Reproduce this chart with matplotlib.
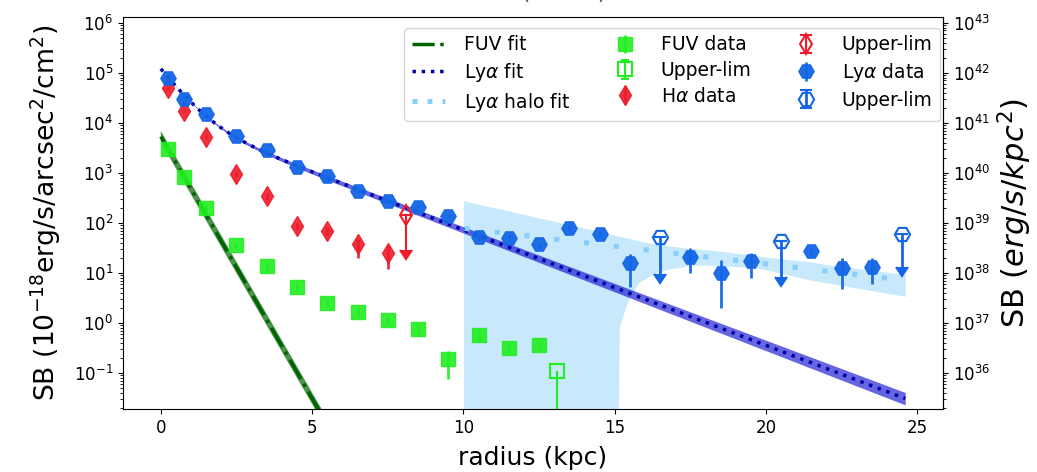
import numpy as np
import matplotlib
matplotlib.use("Agg")
import matplotlib.pyplot as plt
from matplotlib.lines import Line2D

# ---------------- measured profiles (1e-18 erg/s/arcsec^2/cm^2) ----------------
fuv_r = [0.25, 0.75, 1.5, 2.5, 3.5, 4.5, 5.5, 6.5, 7.5, 8.5, 9.5, 10.5, 11.5, 12.5]
fuv_sb = [3000, 830, 200, 36, 13.5, 5.2, 2.5, 1.65, 1.13, 0.74, 0.19, 0.56, 0.32, 0.36]
fuv_err_lo = [300, 80, 25, 5, 2, 0.8, 0.4, 0.3, 0.2, 0.15, 0.116, 0.12, 0.08, 0.08]
fuv_err_hi = [300, 80, 25, 5, 2, 0.8, 0.4, 0.3, 0.2, 0.15, 0.09, 0.12, 0.08, 0.08]
fuv_lim_r = [13.1]
fuv_lim_sb = [0.11]
fuv_lim_end = [0.012]

ha_r = [0.25, 0.75, 1.5, 2.5, 3.5, 4.5, 5.5, 6.5, 7.5]
ha_sb = [5.0e4, 1.7e4, 5.3e3, 930, 340, 86, 69, 37, 25]
ha_err_lo = [4e3, 1.5e3, 6e2, 120, 50, 14, 12, 17, 13]
ha_err_hi = [4e3, 1.5e3, 6e2, 120, 50, 14, 12, 10, 10]
ha_lim_r = [8.1]
ha_lim_sb = [141]
ha_lim_end = [28]

lya_r = [0.25, 0.75, 1.5, 2.5, 3.5, 4.5, 5.5, 6.5, 7.5, 8.5, 9.5, 10.5, 11.5,
         12.5, 13.5, 14.5, 15.5, 17.5, 18.5, 19.5, 21.5, 22.5, 23.5]
lya_sb = [7.9e4, 3.0e4, 1.5e4, 5.4e3, 2.8e3, 1.3e3, 870, 430, 275, 209, 135, 51, 50,
          37, 77, 61, 15.5, 20.5, 10, 17, 27, 12.5, 13]
lya_err_lo = [3e3, 1.5e3, 8e2, 3e2, 150, 80, 50, 30, 20, 15, 12, 6, 6,
              5, 8, 7, 10.4, 10.5, 8.0, 9.2, 4, 7.8, 7.1]
lya_err_hi = [3e3, 1.5e3, 8e2, 3e2, 150, 80, 50, 30, 20, 15, 12, 6, 6,
              5, 8, 7, 8.5, 10.5, 7.8, 7.5, 4, 7.0, 6.5]
lya_lim_r = [16.5, 20.5, 24.5]
lya_lim_sb = [51, 43, 61]
lya_lim_end = [9.3, 8.1, 13]

# ---------------- fitted models ----------------
fuv_fit_amp, fuv_fit_h = 5.3e3, 0.415
fuv_fit_spread = 1.3
lya_core_amp, lya_core_h = 1.05e5, 0.55
lya_halo_amp, lya_halo_h = 1.48e4, 1.88
lya_fit_damp, lya_fit_dh = 0.05, 0.018
halo_fit_amp, halo_fit_h, halo_fit_rmin = 400.0, 6.1, 10.0
fit_rmax = 24.6

# confidence envelope of the Lya halo fit
halo_band_r = [10.0, 12.0, 14.0, 15.1, 15.15, 15.4, 15.77, 16.2, 16.7, 17.55,
               18.0, 18.5, 19.7, 20.0, 21.5, 22.0, 24.6]
halo_band_lo = [1e-3, 1e-3, 1e-3, 1e-3, 0.83, 2.4, 6.2, 9.0, 11.7, 14.2,
                14.2, 14.0, 12.4, 11.5, 7.1, 6.3, 3.4]
halo_band_hi = [275, 147, 78, 55, 54, 50, 44, 39, 35, 30.5,
                29, 27, 22, 20.6, 16.5, 14.5, 9.3]

# axis ticks
left_yticks = [1e-1, 1e0, 1e1, 1e2, 1e3, 1e4, 1e5, 1e6]
right_yticks = [1e36, 1e37, 1e38, 1e39, 1e40, 1e41, 1e42, 1e43]
x_ticks = [0, 5, 10, 15, 20, 25]

# unit conversion to erg/s/kpc^2
sb_to_kpc = 1e37

# ---------------- styling ----------------
fuv_color = '#22ee22'
ha_color = '#ee1c2a'
lya_color = '#1466e6'
halo_color = 'lightskyblue'

plt.rcParams['font.family'] = 'DejaVu Sans'
fig = plt.figure(figsize=(10.37, 4.72), dpi=100)
ax = fig.add_axes([0.1186, 0.1335, 0.7908, 0.8305])
ax.set_yscale('log')

r = np.linspace(0, fit_rmax, 400)

# FUV exponential fit
fuv_model = fuv_fit_amp * np.exp(-r / fuv_fit_h)
ax.fill_between(r, fuv_model / fuv_fit_spread, fuv_model * fuv_fit_spread,
                color='darkgreen', alpha=0.7, lw=0, zorder=1)
ax.plot(r, fuv_model, color='darkgreen', ls='-.', lw=2.5, zorder=2, label='FUV fit')

# Lya halo envelope
ax.fill_between(halo_band_r, halo_band_lo, halo_band_hi, color=halo_color,
                alpha=0.45, lw=0, zorder=1)

# Lya two-component fit
lya_core = lya_core_amp * np.exp(-r / lya_core_h)
lya_model = lya_core + lya_halo_amp * np.exp(-r / lya_halo_h)
lya_lo = lya_core + lya_halo_amp * (1 - lya_fit_damp) * np.exp(-r / (lya_halo_h * (1 - lya_fit_dh)))
lya_hi = lya_core + lya_halo_amp * (1 + lya_fit_damp) * np.exp(-r / (lya_halo_h * (1 + lya_fit_dh)))
ax.fill_between(r, lya_lo, lya_hi, color='mediumblue', alpha=0.6, lw=0, zorder=2)
ax.plot(r, lya_model, color='#0000a8', ls=':', lw=2.5, zorder=3, label=r'Ly$\alpha$ fit')

# extended halo fit
rh = r[r >= halo_fit_rmin]
ax.plot(rh, halo_fit_amp * np.exp(-rh / halo_fit_h), color=halo_color,
        ls=(0, (1, 5)), lw=3.6, zorder=3)
halo_handle = Line2D([], [], color=halo_color, ls=(0, (1, 2)), lw=3.6,
                     label=r'Ly$\alpha$ halo fit')

# data points and upper limits
def lim_err(vals, ends):
    return [v - e for v, e in zip(vals, ends)]

h_fuv = ax.errorbar(fuv_r, fuv_sb, yerr=[fuv_err_lo, fuv_err_hi], fmt='s', color=fuv_color,
                    ms=10, elinewidth=2, capsize=0, alpha=0.9, zorder=5, label='FUV data')
h_fuvl = ax.errorbar(fuv_lim_r, fuv_lim_sb, yerr=lim_err(fuv_lim_sb, fuv_lim_end), uplims=True,
                     fmt='s', color=fuv_color, mfc='none', mew=1.5, ms=10, elinewidth=1.5,
                     capsize=0, zorder=5, label='Upper-lim')
h_ha = ax.errorbar(ha_r, ha_sb, yerr=[ha_err_lo, ha_err_hi], fmt='d', color=ha_color,
                   ms=10.5, elinewidth=2, capsize=0, alpha=0.9, zorder=5, label=r'H$\alpha$ data')
h_hal = ax.errorbar(ha_lim_r, ha_lim_sb, yerr=lim_err(ha_lim_sb, ha_lim_end), uplims=True,
                    fmt='d', color=ha_color, mfc='none', mew=1.5, ms=10.5, elinewidth=1.5,
                    capsize=4.5, zorder=5, label='Upper-lim')
h_lya = ax.errorbar(lya_r, lya_sb, yerr=[lya_err_lo, lya_err_hi], fmt='H', color=lya_color,
                    ms=11, elinewidth=2, capsize=0, alpha=0.95, zorder=6, label=r'Ly$\alpha$ data')
h_lyal = ax.errorbar(lya_lim_r, lya_lim_sb, yerr=lim_err(lya_lim_sb, lya_lim_end), uplims=True,
                     fmt='H', color=lya_color, mfc='none', mew=1.5, ms=11, elinewidth=2,
                     capsize=4.5, zorder=6, label='Upper-lim')

ax.set_xlim(-1.25, 25.85)
ax.set_ylim(0.019, 1.3e6)
ax.set_xticks(x_ticks)
ax.set_yticks(left_yticks)
ax.tick_params(labelsize=12)
ax.set_xlabel('radius (kpc)', fontsize=18, labelpad=7)
ax.set_ylabel(r'SB ($10^{-18}$erg/s/arcsec$^2$/cm$^2$)', fontsize=19.2, labelpad=8)

sec = ax.secondary_yaxis('right', functions=(lambda y: y * sb_to_kpc, lambda y: y / sb_to_kpc))
sec.set_yticks(right_yticks)
sec.tick_params(labelsize=12)
sec.set_ylabel(r'SB ($erg/s/kpc^2$)', fontsize=22, labelpad=4)

handles = [ax.lines[0], ax.lines[1], halo_handle, h_fuv, h_fuvl, h_ha, h_hal, h_lya, h_lyal]
labels = ['FUV fit', r'Ly$\alpha$ fit', r'Ly$\alpha$ halo fit', 'FUV data', 'Upper-lim',
          r'H$\alpha$ data', 'Upper-lim', r'Ly$\alpha$ data', 'Upper-lim']
ax.legend(handles, labels, ncol=3, loc='upper right', fontsize=13.5,
          handletextpad=1.0, columnspacing=2.0, handlelength=1.8, labelspacing=0.35,
          borderaxespad=0, bbox_to_anchor=(0.9963, 0.972))

# top axis title (sits at the upper figure edge)
fig.text(0.51, 1 + 1 / 472, 'radius (arcsec)', ha='center', va='baseline',
         fontsize=15, color='#444444')

fig.savefig('out.png', dpi=100)
